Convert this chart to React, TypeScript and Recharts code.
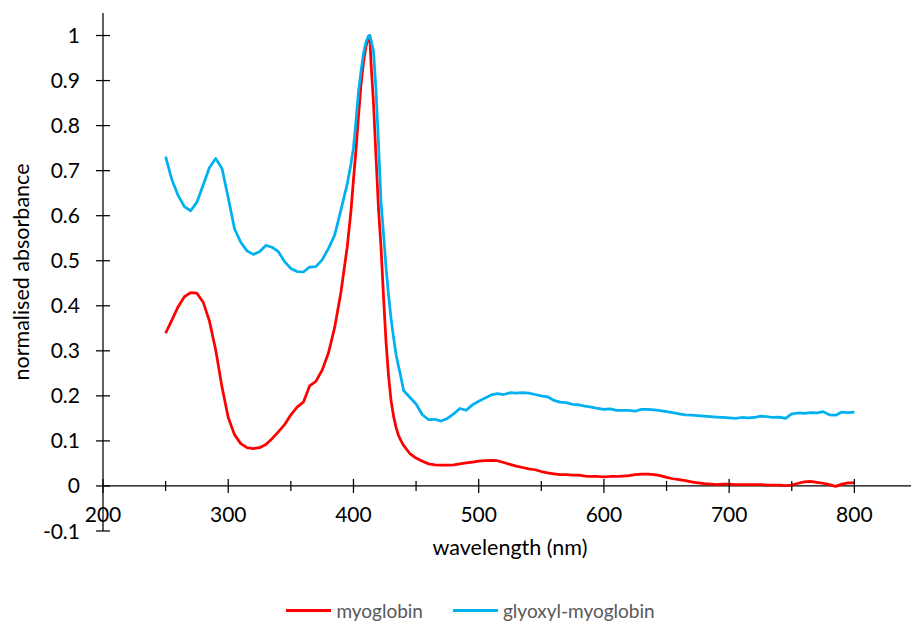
import React from 'react';
import { LineChart, Line, XAxis, YAxis, ReferenceLine, Legend } from 'recharts';

// ---- data ----
const wavelengths = [
  250, 255, 260, 265, 270, 275, 280, 285, 290, 295, 300, 305, 310, 315, 320, 325, 330, 335, 340, 345,
  350, 355, 360, 365, 370, 375, 380, 385, 390, 395,
  398, 400, 402, 404, 406, 408, 410, 412, 413, 414, 416, 418, 420, 422, 424, 426, 428, 430, 432, 434,
  436, 438, 440,
  445, 450, 455, 460, 465, 470, 475, 480, 485, 490, 495, 500, 505, 510, 515, 520, 525, 530, 535, 540,
  545, 550, 555, 560, 565, 570, 575, 580, 585, 590, 595, 600, 605, 610, 615, 620, 625, 630, 635, 640,
  645, 650, 655, 660, 665, 670, 675, 680, 685, 690, 695, 700, 705, 710, 715, 720, 725, 730, 735, 740,
  745, 750, 755, 760, 765, 770, 775, 780, 785, 790, 795, 800,
];

const myoglobin = [
  0.339, 0.368, 0.398, 0.42, 0.429, 0.428, 0.408, 0.366, 0.302, 0.22, 0.152, 0.114, 0.094, 0.085, 0.083,
  0.085, 0.092, 0.105, 0.12, 0.136, 0.158, 0.175, 0.186, 0.222, 0.232, 0.257, 0.295, 0.352, 0.43, 0.53,
  0.61, 0.68, 0.745, 0.82, 0.89, 0.94, 0.975, 0.997, 1.0, 0.94, 0.85, 0.73, 0.615, 0.53, 0.42, 0.32,
  0.245, 0.19, 0.155, 0.13, 0.112, 0.1, 0.09,
  0.072, 0.062, 0.055, 0.049, 0.047, 0.046, 0.046, 0.047, 0.049, 0.051,
  0.053, 0.055, 0.056, 0.057, 0.056, 0.052, 0.048, 0.044, 0.041, 0.038,
  0.036, 0.032, 0.029, 0.027, 0.025, 0.025, 0.024, 0.024, 0.022, 0.021,
  0.021, 0.02, 0.021, 0.021, 0.022, 0.023, 0.025, 0.026, 0.026, 0.025,
  0.023, 0.019, 0.016, 0.014, 0.012, 0.009, 0.007, 0.005, 0.004, 0.003,
  0.004, 0.004, 0.003, 0.003, 0.003, 0.003, 0.003, 0.002, 0.002, 0.002,
  0.001, 0.002, 0.006, 0.009, 0.01, 0.008, 0.006, 0.003, -0.001, 0.004,
  0.007, 0.007,
];

const glyoxylMyoglobin = [
  0.731, 0.68, 0.645, 0.62, 0.611, 0.63, 0.668, 0.707, 0.727, 0.705, 0.64, 0.571, 0.541, 0.522, 0.514,
  0.52, 0.534, 0.53, 0.52, 0.498, 0.483, 0.476, 0.475, 0.486, 0.487, 0.502, 0.527, 0.557, 0.613, 0.67,
  0.715, 0.75, 0.81, 0.875, 0.92, 0.96, 0.985, 0.999, 1.0, 0.99, 0.965, 0.879, 0.76, 0.63, 0.56, 0.485,
  0.425, 0.372, 0.33, 0.292, 0.265, 0.24, 0.212,
  0.197, 0.182, 0.158, 0.147, 0.148, 0.144, 0.15, 0.16, 0.172, 0.168,
  0.18, 0.188, 0.195, 0.202, 0.205, 0.203, 0.207, 0.206, 0.207, 0.206,
  0.203, 0.2, 0.198, 0.19, 0.186, 0.185, 0.181, 0.18, 0.177, 0.175,
  0.172, 0.17, 0.171, 0.168, 0.168, 0.168, 0.166, 0.17, 0.17, 0.169,
  0.167, 0.165, 0.163, 0.16, 0.158, 0.157, 0.156, 0.155, 0.154, 0.153,
  0.152, 0.151, 0.15, 0.152, 0.151, 0.152, 0.155, 0.154, 0.152, 0.153,
  0.15, 0.16, 0.162, 0.161, 0.163, 0.162, 0.165, 0.158, 0.157, 0.164,
  0.163, 0.164,
];

const xTicks = [200, 250, 300, 350, 400, 450, 500, 550, 600, 650, 700, 750, 800, 850];
const xTickLabels = [200, 300, 400, 500, 600, 700, 800];
const yTicks = [-0.1, 0, 0.1, 0.2, 0.3, 0.4, 0.5, 0.6, 0.7, 0.8, 0.9, 1.0];
const yTickLabels = ['-0.1', '0', '0.1', '0.2', '0.3', '0.4', '0.5', '0.6', '0.7', '0.8', '0.9', '1'];

const seriesNames = ['myoglobin', 'glyoxyl-myoglobin'];
const seriesColors = ['#FF0000', '#00B0F0'];

const data = wavelengths.map((w, i) => ({ w, myo: myoglobin[i], gly: glyoxylMyoglobin[i] }));

// ---- layout ----
const W = 911;
const H = 620;
const M_TOP = 5;
const M_RIGHT = 2;
const Y_AXIS_W = 95;
const X_AXIS_H = 61;
const LEGEND_H = 36;
const X_MIN = 200;
const X_MAX = 850;
const Y_MIN = -0.1;
const Y_MAX = 1.05;
const PLOT_H = H - M_TOP - X_AXIS_H - LEGEND_H;
const ZERO_OFFSET = (PLOT_H * (0 - Y_MIN)) / (Y_MAX - Y_MIN);
const FONT = 'Lato, "Open Sans", sans-serif';
const TICK_FONT = 21;
const TITLE_FONT = 21.5;

function XTick(props: any) {
  const { x, y, payload } = props;
  const v = payload.value;
  const zy = y - ZERO_OFFSET;
  const major = v % 100 === 0;
  const len = major ? 7 : 5;
  return (
    <g>
      <line x1={x} x2={x} y1={zy - len} y2={zy + len} stroke="#000" strokeWidth={1.25} />
      {xTickLabels.includes(v) && (
        <text x={x} y={zy + 36} textAnchor="middle" fontSize={TICK_FONT} fontFamily={FONT} fill="#000">
          {v}
        </text>
      )}
    </g>
  );
}

function YTick(props: any) {
  const { x, y, payload } = props;
  const idx = yTicks.findIndex((t) => Math.abs(t - payload.value) < 1e-9);
  const label = idx >= 0 ? yTickLabels[idx] : String(payload.value);
  return (
    <g>
      <line x1={x - 7} x2={x + 7} y1={y} y2={y} stroke="#000" strokeWidth={1.25} />
      <text x={x - 23} y={y + 7.5} textAnchor="end" fontSize={TICK_FONT} fontFamily={FONT} fill="#000">
        {label}
      </text>
    </g>
  );
}

function XLabel(props: any) {
  const vb = props.viewBox;
  return (
    <text x={vb.x + vb.width / 2} y={vb.y + 24} textAnchor="middle" fontSize={TITLE_FONT} fontFamily={FONT} fill="#000">
      wavelength (nm)
    </text>
  );
}

function YLabel(props: any) {
  const vb = props.viewBox;
  const cx = 21;
  const cy = vb.y + vb.height / 2;
  return (
    <text
      x={cx}
      y={cy}
      transform={`rotate(-90, ${cx}, ${cy})`}
      textAnchor="middle"
      fontSize={TITLE_FONT}
      fontFamily={FONT}
      fill="#000"
    >
      normalised absorbance
    </text>
  );
}

function LegendContent() {
  return (
    <div
      style={{
        height: LEGEND_H,
        boxSizing: 'border-box',
        display: 'flex',
        justifyContent: 'center',
        alignItems: 'center',
        paddingLeft: 16,
        fontFamily: FONT,
        fontSize: 19,
        color: '#595959',
      }}
    >
      {seriesNames.map((n, i) => (
        <div key={n} style={{ display: 'flex', alignItems: 'center', marginLeft: i === 0 ? 0 : 30 }}>
          <div style={{ width: 45, height: 3, background: seriesColors[i], marginRight: 5 }} />
          <span>{n}</span>
        </div>
      ))}
    </div>
  );
}

export default function App() {
  return (
    <LineChart width={W} height={H} data={data} margin={{ top: M_TOP, right: M_RIGHT, left: 0, bottom: 0 }}>
      <XAxis
        dataKey="w"
        type="number"
        domain={[X_MIN, X_MAX]}
        ticks={xTicks}
        interval={0}
        allowDataOverflow
        axisLine={false}
        tickLine={false}
        tickSize={0}
        tickMargin={0}
        height={X_AXIS_H}
        tick={<XTick />}
        label={XLabel}
      />
      <YAxis
        type="number"
        domain={[Y_MIN, Y_MAX]}
        ticks={yTicks}
        interval={0}
        allowDataOverflow
        width={Y_AXIS_W}
        axisLine={{ stroke: '#000', strokeWidth: 1.25 }}
        tickLine={false}
        tickSize={0}
        tickMargin={0}
        tick={<YTick />}
        label={YLabel}
      />
      <ReferenceLine y={0} stroke="#000" strokeWidth={1.25} />
      <Line
        dataKey="myo"
        name={seriesNames[0]}
        stroke={seriesColors[0]}
        strokeWidth={2.75}
        dot={false}
        type="linear"
        isAnimationActive={false}
        strokeLinejoin="round"
      />
      <Line
        dataKey="gly"
        name={seriesNames[1]}
        stroke={seriesColors[1]}
        strokeWidth={2.75}
        dot={false}
        type="linear"
        isAnimationActive={false}
        strokeLinejoin="round"
      />
      <Legend verticalAlign="bottom" height={LEGEND_H} content={<LegendContent />} />
    </LineChart>
  );
}
